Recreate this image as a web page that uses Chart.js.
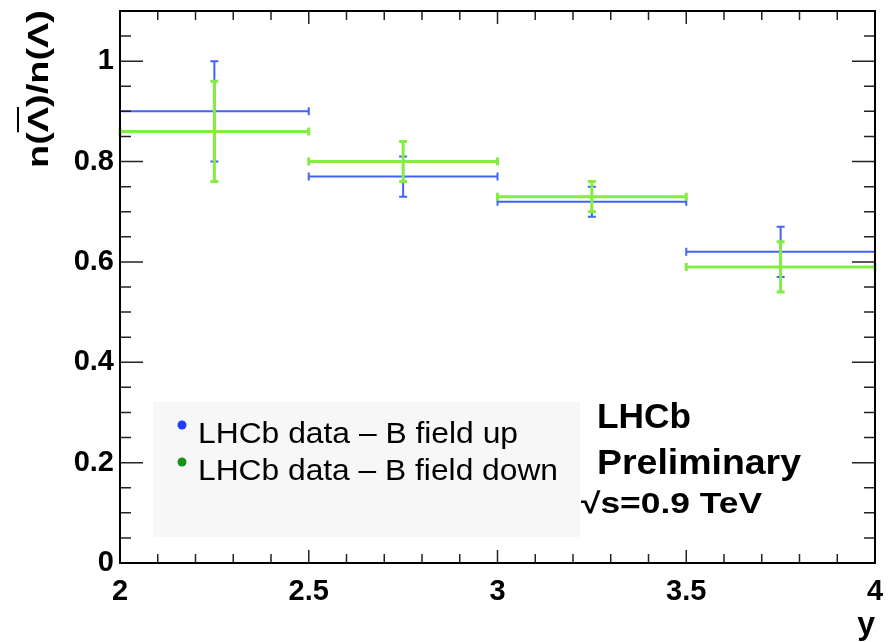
<!DOCTYPE html>
<html>
<head>
<meta charset="utf-8">
<script src="https://cdn.jsdelivr.net/npm/chart.js@4/dist/chart.umd.min.js"></script>
<style>
  html, body { margin: 0; padding: 0; background: #fff; }
  #wrap { width: 888px; height: 642px; }
</style>
</head>
<body>
<div id="wrap"><canvas id="chart" width="888" height="642"></canvas></div>
<script>
// rapidity bins
const binLow = [2.0, 2.5, 3.0, 3.5];
const binHigh = [2.5, 3.0, 3.5, 4.0];
const binCenter = [2.25, 2.75, 3.25, 3.75];

// anti-lambda / lambda ratio, two magnet polarities
const ratioUp = [0.90, 0.77, 0.72, 0.62];
const errUp = [0.10, 0.04, 0.03, 0.05];
const ratioDown = [0.86, 0.80, 0.73, 0.59];
const errDown = [0.10, 0.04, 0.03, 0.05];

const seriesLabels = ["LHCb data \u2013 B field up", "LHCb data \u2013 B field down"];
const xTicks = [2, 2.5, 3, 3.5, 4];
const yTicks = [0, 0.2, 0.4, 0.6, 0.8, 1];

const FONT = "'Liberation Sans', Arial, Helvetica, sans-serif";

const makePoints = (vals) => binCenter.map((x, i) => ({ x: x, y: vals[i] }));

// error bars drawn as crosses, ROOT style
const errorBars = {
    id: "errorBars",
    afterDatasetsDraw(chart) {
        const ctx = chart.ctx;
        const xs = chart.scales.x;
        const ys = chart.scales.y;
        chart.data.datasets.forEach((ds) => {
            ctx.save();
            ctx.strokeStyle = ds.borderColor;
            ctx.lineWidth = ds.borderWidth;
            ds.data.forEach((p, i) => {
                const px = xs.getPixelForValue(p.x);
                const py = ys.getPixelForValue(p.y);
                const x0 = xs.getPixelForValue(ds.xLow[i]);
                const x1 = xs.getPixelForValue(ds.xHigh[i]);
                const y0 = ys.getPixelForValue(p.y - ds.yErr[i]);
                const y1 = ys.getPixelForValue(p.y + ds.yErr[i]);
                ctx.beginPath();
                ctx.moveTo(x0, py); ctx.lineTo(x1, py);
                ctx.moveTo(x0, py - 4); ctx.lineTo(x0, py + 4);
                ctx.moveTo(x1, py - 4); ctx.lineTo(x1, py + 4);
                ctx.moveTo(px, y0); ctx.lineTo(px, y1);
                ctx.moveTo(px - 4, y0); ctx.lineTo(px + 4, y0);
                ctx.moveTo(px - 4, y1); ctx.lineTo(px + 4, y1);
                ctx.stroke();
            });
            ctx.restore();
        });
    }
};

// frame with inward ticks on all four sides, legend box and labels
const frameAndText = {
    id: "frameAndText",
    afterDraw(chart) {
        const ctx = chart.ctx;
        const a = chart.chartArea;
        const xs = chart.scales.x;
        const ys = chart.scales.y;
        ctx.save();

        // ticks
        ctx.strokeStyle = "#222";
        ctx.lineWidth = 1.5;
        ctx.beginPath();
        for (let k = 0; k <= 20; k++) {
            const v = 2 + k * 0.1;
            const x = xs.getPixelForValue(v);
            const len = k % 5 === 0 ? 13 : 9;
            ctx.moveTo(x, a.bottom); ctx.lineTo(x, a.bottom - len);
            ctx.moveTo(x, a.top); ctx.lineTo(x, a.top + len);
        }
        for (let k = 0; k <= 22; k++) {
            const v = k * 0.05;
            const y = ys.getPixelForValue(v);
            const len = k % 4 === 0 ? 23 : 11;
            ctx.moveTo(a.left, y); ctx.lineTo(a.left + len, y);
            ctx.moveTo(a.right, y); ctx.lineTo(a.right - len, y);
        }
        ctx.stroke();

        ctx.strokeStyle = "#000";
        ctx.lineWidth = 2;
        ctx.strokeRect(a.left, a.top, a.right - a.left, a.bottom - a.top);

        const stretch = (txt, x, y, font, w) => {
            ctx.font = font;
            const m = ctx.measureText(txt).width;
            ctx.save();
            ctx.translate(x, y);
            ctx.scale(w / m, 1);
            ctx.fillText(txt, 0, 0);
            ctx.restore();
        };

        // legend box
        ctx.fillStyle = "#f7f7f7";
        ctx.fillRect(153, 402, 427, 135);
        const dotColors = ["#1f3dff", "#1a8f1a"];
        const textW = [320, 360];
        ctx.textAlign = "left";
        ctx.textBaseline = "alphabetic";
        chart.data.datasets.forEach((ds, i) => {
            const by = 443 + i * 37;
            ctx.fillStyle = dotColors[i];
            ctx.beginPath();
            ctx.arc(182, by - 18, 4.5, 0, Math.PI * 2);
            ctx.fill();
            ctx.fillStyle = "#000";
            stretch(ds.label, 198, by, "30px " + FONT, textW[i]);
        });

        // experiment label
        ctx.fillStyle = "#000";
        stretch("LHCb", 597, 428, "bold 35px " + FONT, 94);
        stretch("Preliminary", 597, 474, "bold 35px " + FONT, 204);
        stretch("\u221As=0.9 TeV", 581, 513, "bold 29px " + FONT, 181);

        // axis titles
        ctx.font = "bold 32px " + FONT;
        ctx.textAlign = "right";
        ctx.fillText("y", 875, 634);

        ctx.save();
        ctx.translate(48, 89);
        ctx.rotate(-Math.PI / 2);
        ctx.font = "bold 30px " + FONT;
        ctx.textAlign = "left";
        const full = "n(\u039B)/n(\u039B)";
        const fw = ctx.measureText(full).width;
        ctx.scale(158 / fw, 1);
        const x0 = -fw / 2;
        ctx.fillText(full, x0, 0);
        const pre = ctx.measureText("n(").width;
        const lw = ctx.measureText("\u039B").width;
        ctx.strokeStyle = "#000";
        ctx.lineWidth = 2;
        ctx.beginPath();
        ctx.moveTo(x0 + pre, -30);
        ctx.lineTo(x0 + pre + lw, -30);
        ctx.stroke();
        ctx.restore();

        ctx.restore();
    }
};

new Chart(document.getElementById("chart"), {
    type: "scatter",
    data: {
        datasets: [
            {
                label: seriesLabels[0],
                data: makePoints(ratioUp),
                xLow: binLow, xHigh: binHigh, yErr: errUp,
                borderColor: "rgba(66, 98, 250, 1)",
                backgroundColor: "rgba(66, 98, 250, 1)",
                borderWidth: 2,
                pointRadius: 0
            },
            {
                label: seriesLabels[1],
                data: makePoints(ratioDown),
                xLow: binLow, xHigh: binHigh, yErr: errDown,
                borderColor: "rgba(132, 236, 66, 1)",
                backgroundColor: "rgba(132, 236, 66, 1)",
                borderWidth: 3,
                pointRadius: 0
            }
        ]
    },
    options: {
        responsive: false,
        animation: false,
        layout: { padding: { top: 11, right: 13, left: 0, bottom: 0 } },
        plugins: {
            legend: { display: false },
            tooltip: { enabled: false }
        },
        scales: {
            x: {
                type: "linear",
                min: 2, max: 4,
                afterBuildTicks: (s) => { s.ticks = xTicks.map((v) => ({ value: v })); },
                afterFit: (s) => { s.height = 79; s.paddingLeft = 0; s.paddingRight = 0; },
                grid: { display: false, drawTicks: false },
                border: { display: false },
                ticks: {
                    color: "#000",
                    padding: 12,
                    maxRotation: 0,
                    font: { family: FONT, size: 29, weight: "bold" },
                    callback: (v) => String(v)
                }
            },
            y: {
                type: "linear",
                min: 0, max: 1.1,
                afterBuildTicks: (s) => { s.ticks = yTicks.map((v) => ({ value: v })); },
                afterFit: (s) => { s.width = 120; s.paddingTop = 0; s.paddingBottom = 0; },
                grid: { display: false, drawTicks: false },
                border: { display: false },
                ticks: {
                    color: "#000",
                    padding: 6,
                    font: { family: FONT, size: 29, weight: "bold" },
                    callback: (v) => String(v)
                }
            }
        }
    },
    plugins: [errorBars, frameAndText]
});
</script>
</body>
</html>
